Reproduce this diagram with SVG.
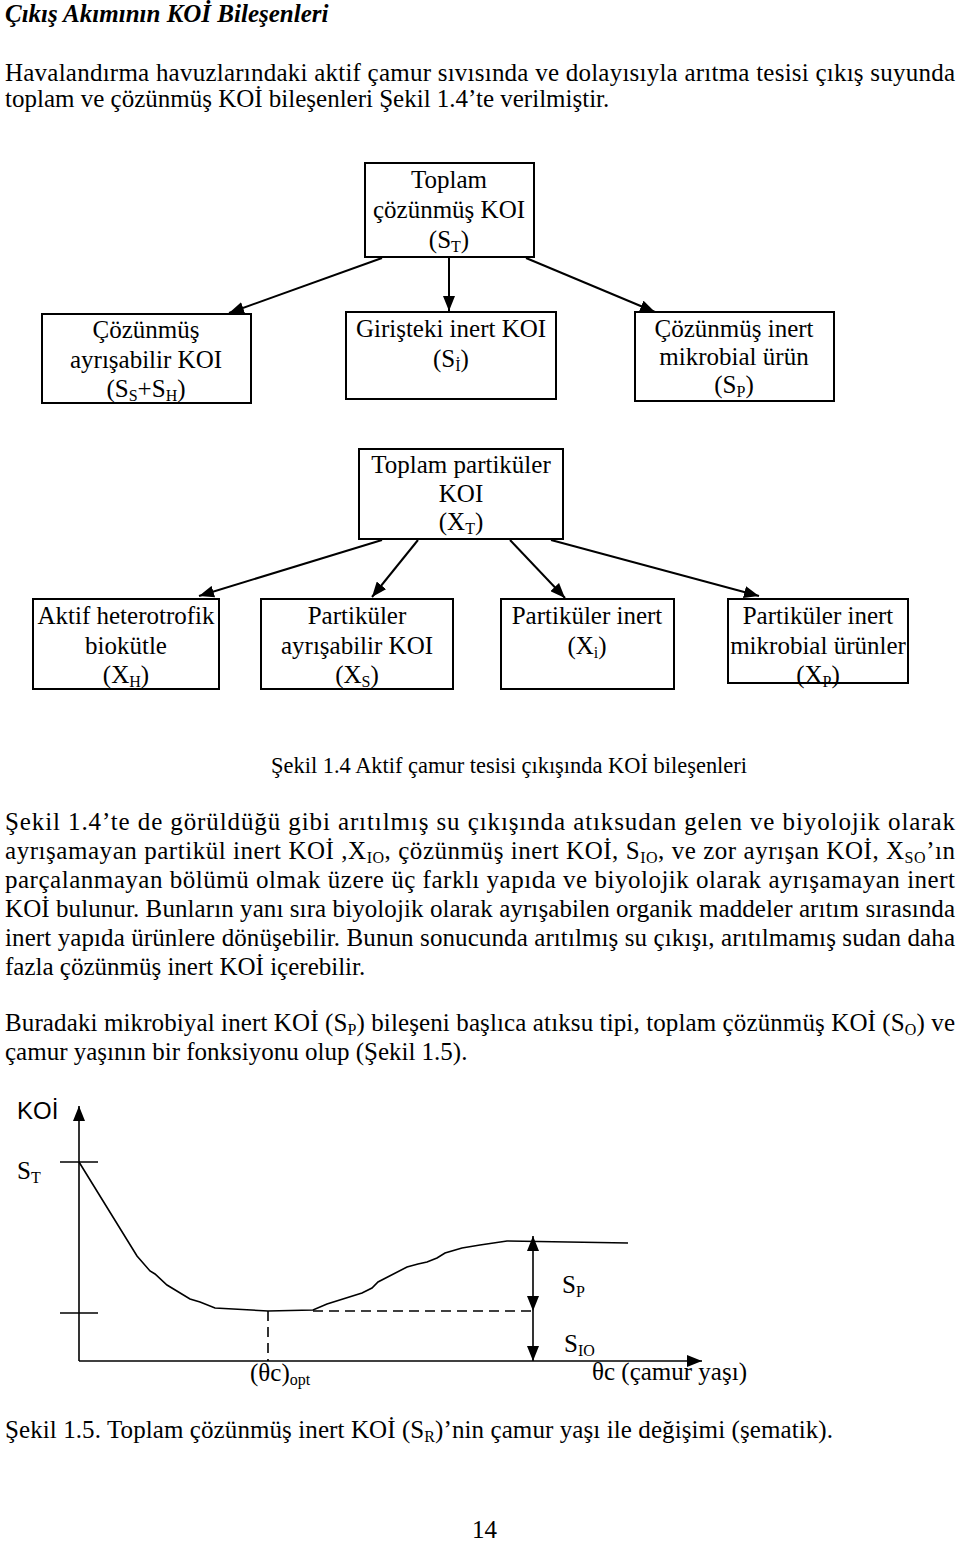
<svg xmlns="http://www.w3.org/2000/svg" width="960" height="1541" viewBox="0 0 960 1541">
<style>
text{font-family:"Liberation Serif","Times New Roman",serif;fill:#000}
.body{font-size:25px}
.title{font-size:25px;font-weight:bold;font-style:italic}
.nt{font-size:25px;text-anchor:middle}
.box{fill:#fff;stroke:#000;stroke-width:2}
.conn{stroke:#000;stroke-width:2;fill:none}
.ax{stroke:#000;stroke-width:1.6;fill:none}
.dash{stroke:#000;stroke-width:1.6;fill:none;stroke-dasharray:10 6}
.sub{font-size:16px}
.sans{font-family:"Liberation Sans",Arial,sans-serif}
</style>
<defs>
<marker id="ah" markerUnits="userSpaceOnUse" markerWidth="15" markerHeight="12" refX="15" refY="6" orient="auto">
<path d="M0,0 L15,6 L0,12 z" fill="#000"/>
</marker>
</defs>
<rect width="960" height="1541" fill="#fff"/>

<text class="title" x="5" y="22">Çıkış Akımının KOİ Bileşenleri</text>
<text class="body" x="5" y="81" textLength="950" lengthAdjust="spacing">Havalandırma havuzlarındaki aktif çamur sıvısında ve dolayısıyla arıtma tesisi çıkış suyunda</text>
<text class="body" x="5" y="107">toplam ve çözünmüş KOİ bileşenleri Şekil 1.4’te verilmiştir.</text>

<g id="connectors">
<line class="conn" x1="382" y1="258" x2="229" y2="313" marker-end="url(#ah)"/>
<line class="conn" x1="449" y1="258" x2="449" y2="311" marker-end="url(#ah)"/>
<line class="conn" x1="526" y1="258" x2="655" y2="312" marker-end="url(#ah)"/>
<line class="conn" x1="382" y1="540" x2="199" y2="596" marker-end="url(#ah)"/>
<line class="conn" x1="418" y1="540" x2="372" y2="597" marker-end="url(#ah)"/>
<line class="conn" x1="510" y1="540" x2="565" y2="598" marker-end="url(#ah)"/>
<line class="conn" x1="551" y1="540" x2="759" y2="596" marker-end="url(#ah)"/>
</g>

<g id="node-st">
<rect class="box" x="365" y="163" width="169" height="94"/>
<text class="nt" x="449" y="188">Toplam</text>
<text class="nt" x="449" y="218">çözünmüş KOI</text>
<text class="nt" x="449" y="248">(S<tspan class="sub" dy="4">T</tspan><tspan dy="-4">)</tspan></text>
</g>
<g id="node-ss-sh">
<rect class="box" x="42" y="314" width="209" height="89"/>
<text class="nt" x="146" y="338">Çözünmüş</text>
<text class="nt" x="146" y="368">ayrışabilir KOI</text>
<text class="nt" x="146" y="397">(S<tspan class="sub" dy="4">S</tspan><tspan dy="-4">+S</tspan><tspan class="sub" dy="4">H</tspan><tspan dy="-4">)</tspan></text>
</g>
<g id="node-si">
<rect class="box" x="346" y="312" width="210" height="87"/>
<text class="nt" x="451" y="337">Girişteki inert KOI</text>
<text class="nt" x="451" y="367">(S<tspan class="sub" dy="4">İ</tspan><tspan dy="-4">)</tspan></text>
</g>
<g id="node-sp">
<rect class="box" x="635" y="312" width="199" height="89"/>
<text class="nt" x="734" y="337">Çözünmüş inert</text>
<text class="nt" x="734" y="365">mikrobial ürün</text>
<text class="nt" x="734" y="393">(S<tspan class="sub" dy="4">P</tspan><tspan dy="-4">)</tspan></text>
</g>

<g id="node-xt">
<rect class="box" x="359" y="449" width="204" height="90"/>
<text class="nt" x="461" y="473">Toplam partiküler</text>
<text class="nt" x="461" y="502">KOI</text>
<text class="nt" x="461" y="530">(X<tspan class="sub" dy="4">T</tspan><tspan dy="-4">)</tspan></text>
</g>
<g id="node-xh">
<rect class="box" x="33" y="599" width="186" height="90"/>
<text class="nt" x="126" y="624">Aktif heterotrofik</text>
<text class="nt" x="126" y="654">biokütle</text>
<text class="nt" x="126" y="683">(X<tspan class="sub" dy="4">H</tspan><tspan dy="-4">)</tspan></text>
</g>
<g id="node-xs">
<rect class="box" x="261" y="599" width="192" height="90"/>
<text class="nt" x="357" y="624">Partiküler</text>
<text class="nt" x="357" y="654">ayrışabilir KOI</text>
<text class="nt" x="357" y="683">(X<tspan class="sub" dy="4">S</tspan><tspan dy="-4">)</tspan></text>
</g>
<g id="node-xi">
<rect class="box" x="501" y="599" width="173" height="90"/>
<text class="nt" x="587" y="624">Partiküler inert</text>
<text class="nt" x="587" y="654">(X<tspan class="sub" dy="4">i</tspan><tspan dy="-4">)</tspan></text>
</g>
<g id="node-xp">
<rect class="box" x="728" y="599" width="180" height="84"/>
<text class="nt" x="818" y="624">Partiküler inert</text>
<text class="nt" x="818" y="654">mikrobial ürünler</text>
<text class="nt" x="818" y="683">(X<tspan class="sub" dy="4">P</tspan><tspan dy="-4">)</tspan></text>
</g>

<text class="body" x="271" y="773" style="font-size:23px" textLength="476" lengthAdjust="spacingAndGlyphs">Şekil 1.4 Aktif çamur tesisi çıkışında KOİ bileşenleri</text>

<text class="body" x="5" y="830" textLength="950" lengthAdjust="spacing">Şekil 1.4’te de görüldüğü gibi arıtılmış su çıkışında atıksudan gelen ve biyolojik olarak</text>
<text class="body" x="5" y="859" textLength="950" lengthAdjust="spacing">ayrışamayan partikül inert KOİ ,X<tspan class="sub" dy="4">IO</tspan><tspan dy="-4">, çözünmüş inert KOİ, S</tspan><tspan class="sub" dy="4">IO</tspan><tspan dy="-4">, ve zor ayrışan KOİ, X</tspan><tspan class="sub" dy="4">SO</tspan><tspan dy="-4">’ın</tspan></text>
<text class="body" x="5" y="888" textLength="950" lengthAdjust="spacing">parçalanmayan bölümü olmak üzere üç farklı yapıda ve biyolojik olarak ayrışamayan inert</text>
<text class="body" x="5" y="917" textLength="950" lengthAdjust="spacing">KOİ bulunur. Bunların yanı sıra biyolojik olarak ayrışabilen organik maddeler arıtım sırasında</text>
<text class="body" x="5" y="946" textLength="950" lengthAdjust="spacing">inert yapıda ürünlere dönüşebilir. Bunun sonucunda arıtılmış su çıkışı, arıtılmamış sudan daha</text>
<text class="body" x="5" y="975">fazla çözünmüş inert KOİ içerebilir.</text>

<text class="body" x="5" y="1031" textLength="950" lengthAdjust="spacing">Buradaki mikrobiyal inert KOİ (S<tspan class="sub" dy="4">P</tspan><tspan dy="-4">) bileşeni başlıca atıksu tipi, toplam çözünmüş KOİ (S</tspan><tspan class="sub" dy="4">O</tspan><tspan dy="-4">) ve</tspan></text>
<text class="body" x="5" y="1060">çamur yaşının bir fonksiyonu olup (Şekil 1.5).</text>

<g id="graph">
<line class="ax" x1="79" y1="1361" x2="79" y2="1106" marker-end="url(#ah)"/>
<line class="ax" x1="79" y1="1361" x2="702" y2="1361" marker-end="url(#ah)"/>
<line class="ax" x1="60" y1="1162" x2="98" y2="1162"/>
<line class="ax" x1="60" y1="1313" x2="98" y2="1313"/>
<polyline class="ax" points="79,1162 137,1256 150,1271 155,1274 167,1285 190,1299 200,1302 215,1308 268,1311 313,1310 327,1304 362,1293 372,1288 378,1282 407,1267 418,1264 427,1262 437,1258 445,1253 462,1248 480,1245 507,1241 628,1243"/>
<line class="dash" x1="268" y1="1311" x2="268" y2="1361"/>
<line class="dash" x1="313" y1="1311" x2="533" y2="1311"/>
<line class="ax" x1="533" y1="1274" x2="533" y2="1236" marker-end="url(#ah)"/>
<line class="ax" x1="533" y1="1274" x2="533" y2="1311" marker-end="url(#ah)"/>
<line class="ax" x1="533" y1="1311" x2="533" y2="1361" marker-end="url(#ah)"/>
<text class="sans" x="17" y="1119" style="font-size:24px">KOİ</text>
<text class="body" x="17" y="1179">S<tspan class="sub" dy="4">T</tspan></text>
<text class="body" x="562" y="1293">S<tspan class="sub" dy="4">P</tspan></text>
<text class="body" x="564" y="1352">S<tspan class="sub" dy="4">IO</tspan></text>
<text class="body" x="250" y="1381">(θc)<tspan class="sub" dy="4">opt</tspan></text>
<text class="body" x="592" y="1380">θc (çamur yaşı)</text>
</g>

<text class="body" x="5" y="1438" textLength="828" lengthAdjust="spacing">Şekil 1.5. Toplam çözünmüş inert KOİ (S<tspan class="sub" dy="4">R</tspan><tspan dy="-4">)’nin çamur yaşı ile değişimi (şematik).</tspan></text>
<text class="body" x="472" y="1538">14</text>
</svg>
